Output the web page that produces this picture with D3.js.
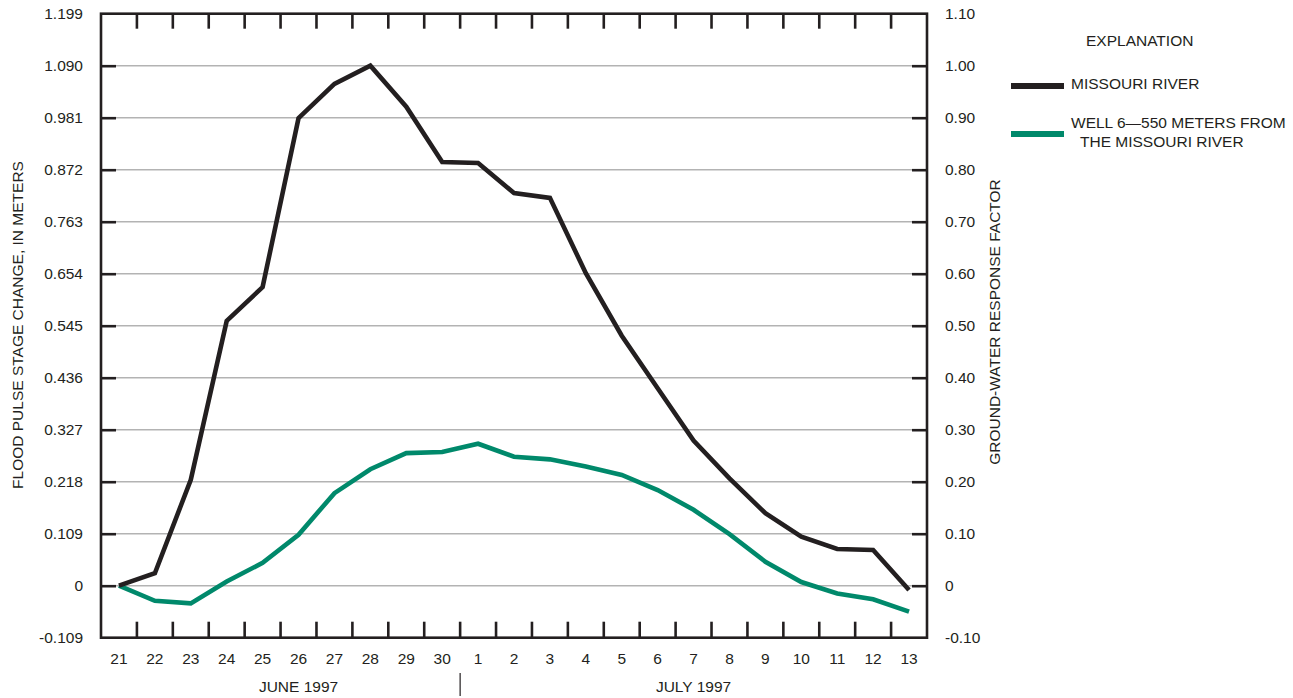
<!DOCTYPE html>
<html>
<head>
<meta charset="utf-8">
<script src="https://cdn.jsdelivr.net/npm/d3@7"></script>
<style>
  html, body { margin: 0; padding: 0; background: #fff; }
  svg text { font-family: "Liberation Sans", Arial, Helvetica, sans-serif; fill: #231f20; }
</style>
</head>
<body>
<svg id="chart" width="1293" height="698"></svg>
<script>
// Days of the flood pulse, 21 June – 13 July 1997
const dayLabels = ["21","22","23","24","25","26","27","28","29","30",
                   "1","2","3","4","5","6","7","8","9","10","11","12","13"];

// Missouri River flood pulse stage change, in meters
const riverStage = [0, 0.026, 0.222, 0.555, 0.626, 0.980, 1.052, 1.090, 1.004, 0.888,
                    0.886, 0.823, 0.813, 0.655, 0.524, 0.414, 0.304, 0.225, 0.152, 0.103,
                    0.077, 0.075, -0.009];

// Well 6 ground-water response factor
const wellResponse = [0, -0.029, -0.034, 0.008, 0.044, 0.098, 0.178, 0.224, 0.255, 0.257,
                      0.273, 0.248, 0.243, 0.229, 0.213, 0.184, 0.146, 0.099, 0.046, 0.007,
                      -0.015, -0.026, -0.050];

const leftTicks = [-0.109, 0, 0.109, 0.218, 0.327, 0.436, 0.545, 0.654, 0.763, 0.872, 0.981, 1.090, 1.199];
const rightTicks = [-0.10, 0, 0.10, 0.20, 0.30, 0.40, 0.50, 0.60, 0.70, 0.80, 0.90, 1.00, 1.10];

const monthLabels = [
  { text: "JUNE 1997", day: 5 },
  { text: "JULY 1997", day: 16 }
];

const ink = "#231f20";
const riverColor = "#231f20";
const wellColor = "#00896b";
const gridColor = "#b3b3b3";
const FS = 15.5;

const L = 101, R = 927, T = 13.7, B = 637.7;

const svg = d3.select("#chart");

const x = d3.scaleBand().domain(d3.range(dayLabels.length)).range([L, R]);
const cx = i => x(i) + x.bandwidth() / 2;
const yLeft = d3.scaleLinear().domain([-0.109, 1.199]).range([B, T]);
const yRight = d3.scaleLinear().domain([-0.10, 1.10]).range([B, T]);

const fmt = f => d => d === 0 ? "0" : d3.format(f)(d).replace("\u2212", "-");

// horizontal grid lines
svg.append("g").selectAll("line")
  .data(leftTicks.slice(1, -1))
  .join("line")
  .attr("x1", L).attr("x2", R)
  .attr("y1", d => yLeft(d)).attr("y2", d => yLeft(d))
  .attr("stroke", gridColor).attr("stroke-width", 1.6);

// left axis
const leftAxis = d3.axisLeft(yLeft)
  .tickValues(leftTicks)
  .tickFormat(fmt(".3f"))
  .tickSize(-15).tickPadding(18);
const gl = svg.append("g").attr("transform", `translate(${L},0)`).call(leftAxis);
gl.select(".domain").remove();
gl.selectAll(".tick line").attr("stroke", ink).attr("stroke-width", 2.6)
  .filter(d => d === leftTicks[0] || d === leftTicks[leftTicks.length - 1]).remove();
gl.selectAll(".tick text").attr("font-size", FS).attr("fill", ink)
  .attr("font-family", "Liberation Sans, Arial, sans-serif");

// right axis
const rightAxis = d3.axisRight(yRight)
  .tickValues(rightTicks)
  .tickFormat(fmt(".2f"))
  .tickSize(-15).tickPadding(18);
const gr = svg.append("g").attr("transform", `translate(${R},0)`).call(rightAxis);
gr.select(".domain").remove();
gr.selectAll(".tick line").attr("stroke", ink).attr("stroke-width", 2.6)
  .filter(d => d === rightTicks[0] || d === rightTicks[rightTicks.length - 1]).remove();
gr.selectAll(".tick text").attr("font-size", FS).attr("fill", ink)
  .attr("font-family", "Liberation Sans, Arial, sans-serif");

// day boundary ticks on top and bottom
const bounds = d3.range(1, dayLabels.length);
svg.append("g").selectAll("line")
  .data(bounds)
  .join("line")
  .attr("x1", i => x(i)).attr("x2", i => x(i))
  .attr("y1", T).attr("y2", T + 15)
  .attr("stroke", ink).attr("stroke-width", 2.6);
svg.append("g").selectAll("line")
  .data(bounds)
  .join("line")
  .attr("x1", i => x(i)).attr("x2", i => x(i))
  .attr("y1", B).attr("y2", B - 16)
  .attr("stroke", ink).attr("stroke-width", 2.6);

// day labels
svg.append("g").selectAll("text")
  .data(dayLabels)
  .join("text")
  .attr("x", (d, i) => cx(i)).attr("y", 664)
  .attr("text-anchor", "middle").attr("font-size", FS)
  .text(d => d);

// month labels and divider
svg.append("g").selectAll("text")
  .data(monthLabels)
  .join("text")
  .attr("x", d => cx(d.day)).attr("y", 692)
  .attr("text-anchor", "middle").attr("font-size", FS)
  .text(d => d.text);
svg.append("line")
  .attr("x1", x(10)).attr("x2", x(10))
  .attr("y1", 673).attr("y2", 696)
  .attr("stroke", ink).attr("stroke-width", 1.2);

// data lines
const riverLine = d3.line().x((d, i) => cx(i)).y(d => yLeft(d));
const wellLine = d3.line().x((d, i) => cx(i)).y(d => yRight(d));

svg.append("path").datum(wellResponse)
  .attr("d", wellLine)
  .attr("fill", "none").attr("stroke", wellColor)
  .attr("stroke-width", 4.6).attr("stroke-linejoin", "miter");

svg.append("path").datum(riverStage)
  .attr("d", riverLine)
  .attr("fill", "none").attr("stroke", riverColor)
  .attr("stroke-width", 4.6).attr("stroke-linejoin", "miter");

// plot frame
svg.append("rect")
  .attr("x", L).attr("y", T).attr("width", R - L).attr("height", B - T)
  .attr("fill", "none").attr("stroke", ink).attr("stroke-width", 2.6);

// axis titles
svg.append("text")
  .attr("transform", `translate(23,325) rotate(-90)`)
  .attr("text-anchor", "middle").attr("font-size", FS)
  .text("FLOOD PULSE STAGE CHANGE, IN METERS");
svg.append("text")
  .attr("transform", `translate(1000,322) rotate(-90)`)
  .attr("text-anchor", "middle").attr("font-size", FS)
  .text("GROUND-WATER RESPONSE FACTOR");

// explanation
const lg = svg.append("g");
lg.append("text").attr("x", 1086).attr("y", 46).attr("font-size", FS).text("EXPLANATION");
lg.append("line").attr("x1", 1011).attr("x2", 1064).attr("y1", 86).attr("y2", 86)
  .attr("stroke", riverColor).attr("stroke-width", 6);
lg.append("text").attr("x", 1071).attr("y", 89).attr("font-size", FS).text("MISSOURI RIVER");
lg.append("line").attr("x1", 1011).attr("x2", 1064).attr("y1", 134).attr("y2", 134)
  .attr("stroke", wellColor).attr("stroke-width", 6);
lg.append("text").attr("x", 1071).attr("y", 128).attr("font-size", FS).text("WELL 6\u2014550 METERS FROM");
lg.append("text").attr("x", 1080).attr("y", 147).attr("font-size", FS).text("THE MISSOURI RIVER");
</script>
</body>
</html>
